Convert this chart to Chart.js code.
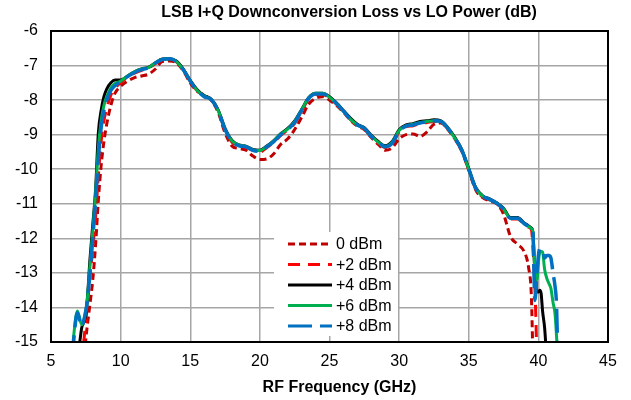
<!DOCTYPE html>
<html>
<head>
<meta charset="utf-8">
<script src="https://cdn.jsdelivr.net/npm/chart.js@4.4.0/dist/chart.umd.min.js"></script>
<style>
  html, body { margin: 0; padding: 0; background: #fff; }
</style>
</head>
<body>
<canvas id="lossChart" width="631" height="400"></canvas>
<script>
// RF frequency (GHz), shared by all five traces (finer steps at the roll-offs)
const freq = [
  6.5, 6.9, 7.2, 7.45, 7.6, 7.8, 8.0, 8.2, 8.4, 8.6,
  8.8, 9.0, 9.3, 9.6, 10.0, 10.5, 11.0, 11.5, 12.0, 12.5,
  13.0, 13.5, 14.0, 14.5, 15.0, 15.5, 16.0, 16.5, 17.0, 17.5,
  18.0, 18.5, 19.0, 19.5, 20.0, 20.5, 21.0, 21.5, 22.0, 22.5,
  23.0, 23.5, 24.0, 24.5, 25.0, 25.5, 26.0, 26.5, 27.0, 27.5,
  28.0, 28.5, 29.0, 29.5, 30.0, 30.5, 31.0, 31.5, 32.0, 32.5,
  33.0, 33.5, 34.0, 34.5, 35.0, 35.5, 36.0, 36.5, 37.0, 37.5,
  38.0, 38.5, 39.0, 39.3, 39.5, 39.6, 39.75, 39.9, 40.0, 40.1,
  40.2, 40.3, 40.45, 40.6, 40.75, 40.9, 41.05, 41.2, 41.3, 41.4
];

// conversion loss (dB) per LO drive
const loss0dBm = [
  null, null, null, -15.1, -14.55, -13.9, -13.2, -12.2, -10.9, -9.9,
  -9.2, -8.7, -8.15, -7.8, -7.6, -7.45, -7.35, -7.3, -7.25, -7.1,
  -6.88, -6.87, -6.92, -7.15, -7.5, -7.75, -7.85, -8.0, -8.35, -8.95,
  -9.33, -9.4, -9.45, -9.62, -9.72, -9.7, -9.55, -9.28, -9.12, -8.85,
  -8.5, -8.12, -7.95, -7.9, -8.0, -8.15, -8.35, -8.58, -8.75, -8.85,
  -9.08, -9.28, -9.45, -9.38, -9.12, -9.0, -8.98, -9.05, -8.92, -8.7,
  -8.66, -8.85, -9.12, -9.48, -10.02, -10.6, -10.82, -10.92, -11.0, -11.3,
  -11.95, -12.17, -12.4, -12.85, -13.7, -15.3, null, null, null, null,
  null, null, null, null, null, null, null, null, null, null
];
const lossP2dBm = [
  null, null, -15.6, -14.6, -14.0, -13.1, -12.3, -11.4, -10.2, -9.2,
  -8.6, -8.25, -7.85, -7.65, -7.5, -7.33, -7.22, -7.14, -7.08, -6.94,
  -6.83, -6.81, -6.89, -7.13, -7.46, -7.73, -7.88, -7.99, -8.31, -8.86,
  -9.22, -9.33, -9.37, -9.46, -9.5, -9.37, -9.22, -9.02, -8.86, -8.67,
  -8.32, -7.97, -7.84, -7.84, -7.94, -8.12, -8.34, -8.56, -8.74, -8.84,
  -9.07, -9.24, -9.37, -9.27, -8.92, -8.77, -8.74, -8.68, -8.65, -8.62,
  -8.64, -8.84, -9.12, -9.47, -10.02, -10.57, -10.8, -10.89, -11.0, -11.17,
  -11.44, -11.44, -11.6, -11.68, -11.75, -12.2, -13.4, -15.5, null, null,
  null, null, null, null, null, null, null, null, null, null
];
const lossP4dBm = [
  null, -15.6, -14.6, -14.3, -13.8, -12.6, -11.6, -10.6, -8.95, -8.3,
  -7.9, -7.68, -7.5, -7.42, -7.42, -7.3, -7.18, -7.1, -7.05, -6.92,
  -6.81, -6.8, -6.87, -7.1, -7.43, -7.7, -7.87, -7.97, -8.28, -8.82,
  -9.17, -9.3, -9.33, -9.43, -9.45, -9.33, -9.17, -8.97, -8.82, -8.6,
  -8.27, -7.93, -7.8, -7.8, -7.9, -8.08, -8.3, -8.52, -8.7, -8.8,
  -9.02, -9.2, -9.32, -9.2, -8.86, -8.72, -8.68, -8.62, -8.6, -8.57,
  -8.6, -8.8, -9.08, -9.43, -9.98, -10.53, -10.77, -10.86, -10.97, -11.13,
  -11.4, -11.4, -11.56, -11.64, -11.7, -11.8, -13.0, -13.55, -13.55, -13.5,
  -13.6, -14.1, -14.6, -15.5, null, null, null, null, null, null
];
const lossP6dBm = [
  -15.3, -14.1, -14.5, -14.2, -13.8, -12.8, -11.8, -10.7, -9.4, -8.6,
  -8.15, -7.9, -7.65, -7.52, -7.45, -7.3, -7.18, -7.1, -7.06, -6.92,
  -6.82, -6.8, -6.88, -7.12, -7.44, -7.72, -7.88, -7.98, -8.3, -8.84,
  -9.18, -9.3, -9.34, -9.44, -9.46, -9.34, -9.18, -8.98, -8.84, -8.62,
  -8.28, -7.94, -7.8, -7.8, -7.92, -8.1, -8.32, -8.55, -8.72, -8.82,
  -9.04, -9.22, -9.34, -9.22, -8.88, -8.74, -8.7, -8.65, -8.62, -8.6,
  -8.62, -8.82, -9.1, -9.45, -10.0, -10.55, -10.78, -10.87, -10.98, -11.15,
  -11.42, -11.42, -11.58, -11.66, -11.72, -11.8, -12.9, -13.2, -12.7, -12.4,
  -12.38, -12.4, -12.9, -13.15, -13.3, -13.45, -13.85, -14.2, -14.8, -15.5
];
const lossP8dBm = [
  -15.5, -14.15, -14.55, -14.2, -13.85, -13.0, -12.0, -10.9, -9.7, -8.8,
  -8.3, -8.0, -7.72, -7.58, -7.47, -7.32, -7.2, -7.12, -7.07, -6.93,
  -6.82, -6.8, -6.88, -7.12, -7.45, -7.72, -7.9, -7.98, -8.3, -8.85,
  -9.2, -9.32, -9.35, -9.45, -9.48, -9.35, -9.2, -9.0, -8.85, -8.65,
  -8.3, -7.95, -7.82, -7.82, -7.92, -8.1, -8.32, -8.55, -8.72, -8.82,
  -9.05, -9.22, -9.35, -9.25, -8.9, -8.75, -8.72, -8.66, -8.63, -8.6,
  -8.62, -8.82, -9.1, -9.45, -10.0, -10.55, -10.78, -10.87, -10.98, -11.15,
  -11.42, -11.42, -11.58, -11.66, -11.72, -11.8, -13.8, -13.0, -12.5, -12.3,
  -12.32, -12.35, -12.57, -12.5, -12.5, -12.57, -13.0, -13.4, -13.9, -15.5
];

const seriesNames = ['0 dBm', '+2 dBm', '+4 dBm', '+6 dBm', '+8 dBm'];
const seriesData = [loss0dBm, lossP2dBm, lossP4dBm, lossP6dBm, lossP8dBm];
const seriesColors = ['#C00000', '#FF0000', '#000000', '#00B050', '#0070C0'];
const seriesDash = [[7, 4], [12, 8], [], [], [24, 8]];
const seriesOrder = [4, 3, 2, 1, 0]; // +8 dBm drawn on top

const FONT = "'Liberation Sans', Arial, Helvetica, sans-serif";
const GRID = '#a6a6a6';

function toPoints(values) {
  return freq.map((f, i) => ({ x: f, y: values[i] }));
}

// title, frame, in-plot legend and x axis title
const framePlugin = {
  id: 'framePlugin',
  afterDatasetsDraw(chart) {
    const { ctx, chartArea: a } = chart;
    ctx.save();
    ctx.strokeStyle = '#000';
    ctx.lineWidth = 2;
    ctx.setLineDash([]);
    ctx.strokeRect(a.left, a.top, a.right - a.left, a.bottom - a.top);

    // legend box
    const bx = a.left + 223, by = a.top + 201;
    ctx.fillStyle = '#fff';
    ctx.fillRect(bx, by, 124, 104);
    ctx.font = '16px ' + FONT;
    ctx.textAlign = 'left';
    ctx.textBaseline = 'middle';
    chart.data.datasets.forEach((ds, i) => {
      const y = by + 12 + i * 20.5;
      ctx.beginPath();
      ctx.strokeStyle = ds.borderColor;
      ctx.lineWidth = 3;
      ctx.setLineDash(ds.borderDash || []);
      ctx.moveTo(bx + 14, y);
      ctx.lineTo(bx + 58, y);
      ctx.stroke();
      ctx.fillStyle = '#000';
      ctx.fillText(ds.label, bx + 62, y + 1);
    });

    ctx.fillStyle = '#000';
    ctx.textAlign = 'center';
    ctx.font = 'bold 16px ' + FONT;
    // chart title
    ctx.fillText('LSB I+Q Downconversion Loss vs LO Power (dB)', 349, 13);
    // x axis title
    ctx.fillText('RF Frequency (GHz)', (a.left + a.right) / 2 + 10, 388);
    ctx.restore();
  }
};

const lossChart = new Chart(document.getElementById('lossChart'), {
  type: 'line',
  data: {
    datasets: seriesNames.map((name, i) => ({
      label: name,
      data: toPoints(seriesData[i]),
      borderColor: seriesColors[i],
      backgroundColor: seriesColors[i],
      borderDash: seriesDash[i],
      borderWidth: i === 4 ? 3.5 : 3,
      pointRadius: 0,
      cubicInterpolationMode: 'monotone',
      order: seriesOrder[i]
    }))
  },
  options: {
    responsive: false,
    animation: false,
    layout: { padding: { left: 0, right: 23, top: 31, bottom: 0 } },
    plugins: {
      legend: { display: false },
      tooltip: { enabled: false },
      title: { display: false }
    },
    scales: {
      x: {
        type: 'linear',
        min: 5,
        max: 45,
        ticks: { stepSize: 5, color: '#000', font: { family: FONT, size: 16 }, padding: 10, maxRotation: 0 },
        grid: { color: GRID, lineWidth: 1.5, drawTicks: false },
        border: { display: false },
        afterFit: s => { s.height = 58; }
      },
      y: {
        min: -15,
        max: -6,
        ticks: { stepSize: 1, color: '#000', font: { family: FONT, size: 16 }, padding: 13 },
        grid: { color: GRID, lineWidth: 1.5, drawTicks: false },
        border: { display: false },
        afterFit: s => { s.width = 51; }
      }
    }
  },
  plugins: [framePlugin]
});
</script>
</body>
</html>
